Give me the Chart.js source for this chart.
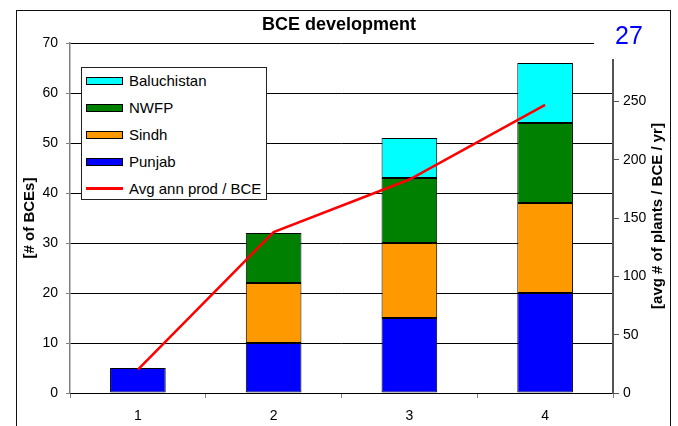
<!DOCTYPE html>
<html>
<head>
<meta charset="utf-8">
<script src="https://cdn.jsdelivr.net/npm/chart.js@4"></script>
<style>
    html, body { margin: 0; padding: 0; background: #fff; }
    #wrap { position: relative; width: 678px; height: 426px; overflow: hidden; font-family: "Liberation Sans", Arial, sans-serif; }
    #frame { position: absolute; left: 16px; top: 10px; width: 655px; height: 440px; border: 1.5px solid #111; box-sizing: border-box; }
    canvas { position: absolute; left: 0; top: 0; }
    #legend { position: absolute; left: 81px; top: 67px; width: 186px; height: 133px; border: 1px solid #222; background: #fff; box-sizing: border-box; }
    .item { position: absolute; left: 0; height: 27px; display: flex; align-items: center; font-size: 15px; color: #000; white-space: nowrap; }
    .swatch { position: absolute; left: 4px; width: 37px; height: 8px; border: 1px solid #000; box-sizing: border-box; }
    .stroke { position: absolute; left: 4px; width: 37px; height: 3px; }
    .label { position: absolute; left: 47px; }
</style>
</head>
<body>
<div id="wrap">
    <div id="frame"></div>
    <canvas id="bceChart" width="678" height="426"></canvas>
    <div id="legend"></div>
</div>
<script>
const years = ['1', '2', '3', '4']
const punjab = [5, 10, 15, 20]
const sindh = [0, 12, 15, 18]
const nwfp = [0, 10, 13, 16]
const baluchistan = [0, 0, 8, 12]
const avgProduction = [20, 138, 183, 247]

const FONT = '"Liberation Sans", Arial, sans-serif'

// right axis title reads bottom-to-top and the "27" box sits over the top-right corner
const overlayPlugin = {
    id: 'overlay',
    afterDraw(chart) {
        const { ctx, chartArea } = chart
        ctx.save()
        ctx.fillStyle = '#000'
        ctx.font = `bold 15px ${FONT}`
        ctx.textAlign = 'center'
        ctx.textBaseline = 'middle'
        ctx.translate(658, (chartArea.top + chartArea.bottom) / 2 - 2)
        ctx.rotate(-Math.PI / 2)
        ctx.fillText('[avg # of plants / BCE / yr]', 0, 0)
        ctx.restore()

        ctx.save()
        ctx.fillStyle = '#fff'
        ctx.fillRect(594, 12, 74, 47)
        ctx.fillStyle = '#0000FF'
        ctx.font = `25px ${FONT}`
        ctx.textAlign = 'center'
        ctx.textBaseline = 'alphabetic'
        ctx.fillText('27', 629, 44)
        ctx.restore()
    }
}

const chart = new Chart(document.getElementById('bceChart'), {
    type: 'bar',
    data: {
        labels: years,
        datasets: [
            { label: 'Punjab', data: punjab, backgroundColor: '#0000FF' },
            { label: 'Sindh', data: sindh, backgroundColor: '#FF9900' },
            { label: 'NWFP', data: nwfp, backgroundColor: '#008000' },
            { label: 'Baluchistan', data: baluchistan, backgroundColor: '#00FFFF' },
            {
                type: 'line',
                label: 'Avg ann prod / BCE',
                data: avgProduction,
                yAxisID: 'y1',
                borderColor: '#FF0000',
                borderWidth: 2.5,
                pointRadius: 0,
                tension: 0,
                order: 0
            }
        ].map(ds => ds.type ? ds : {
            ...ds,
            borderColor: '#000',
            borderWidth: 1,
            borderSkipped: false,
            barPercentage: 0.41,
            categoryPercentage: 1,
            order: 1
        })
    },
    options: {
        responsive: false,
        animation: false,
        layout: { padding: 0 },
        plugins: {
            legend: { display: false },
            tooltip: { enabled: false },
            title: {
                display: true,
                text: 'BCE development',
                color: '#000',
                font: { family: FONT, size: 18, weight: 'bold' },
                padding: { top: 14, bottom: 7.4 }
            }
        },
        scales: {
            x: {
                stacked: true,
                afterFit: scale => { scale.height = 33 },
                grid: { drawOnChartArea: false, tickLength: 5, tickColor: '#808080' },
                border: { color: '#000', width: 1 },
                ticks: { color: '#000', padding: 10, font: { family: FONT, size: 14 } }
            },
            y: {
                stacked: true,
                min: 0,
                max: 70,
                afterFit: scale => { scale.width = 70 },
                ticks: { stepSize: 10, color: '#000', padding: 8, font: { family: FONT, size: 14 } },
                grid: { color: '#000', lineWidth: 1, tickLength: 4, tickColor: '#808080' },
                border: { color: '#808080', width: 1.5 },
                title: {
                    display: true,
                    text: '[# of BCEs]',
                    color: '#000',
                    font: { family: FONT, size: 15, weight: 'bold' },
                    padding: { top: 21, bottom: 0 }
                }
            },
            y1: {
                position: 'right',
                min: 0,
                max: 300,
                afterFit: scale => { scale.width = 65 },
                ticks: {
                    stepSize: 50,
                    color: '#000',
                    padding: 4,
                    font: { family: FONT, size: 14 },
                    callback: value => value === 300 ? '' : value
                },
                grid: { drawOnChartArea: false, tickLength: 6, tickColor: '#555' },
                border: { color: '#555', width: 2 }
            }
        }
    },
    plugins: [overlayPlugin]
})

// legend box inside the plot, Excel order
function renderLegend(chart) {
    const box = document.getElementById('legend')
    const order = ['Baluchistan', 'NWFP', 'Sindh', 'Punjab', 'Avg ann prod / BCE']
    order.forEach((name, i) => {
        const ds = chart.data.datasets.find(d => d.label === name)
        const item = document.createElement('div')
        item.className = 'item'
        item.style.top = `${i * 27 - 1}px`
        item.style.width = '100%'
        const mark = document.createElement('span')
        if (ds.type === 'line') {
            mark.className = 'stroke'
            mark.style.background = ds.borderColor
        } else {
            mark.className = 'swatch'
            mark.style.background = ds.backgroundColor
        }
        const text = document.createElement('span')
        text.className = 'label'
        text.textContent = name
        item.appendChild(mark)
        item.appendChild(text)
        box.appendChild(item)
    })
}

renderLegend(chart)
</script>
</body>
</html>
